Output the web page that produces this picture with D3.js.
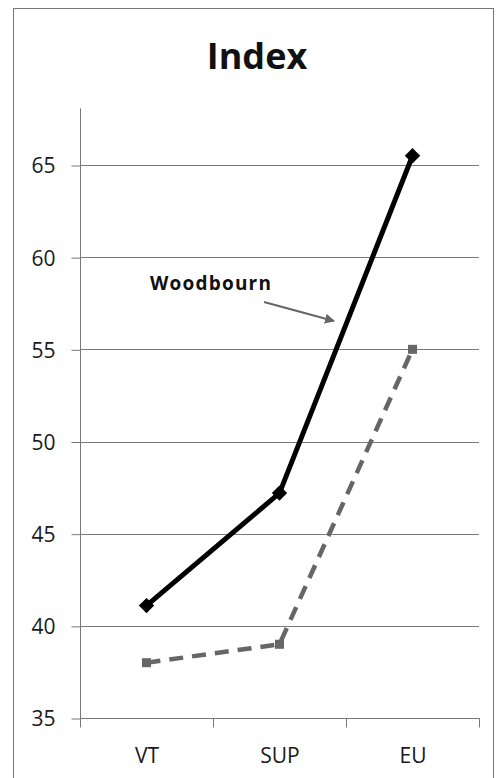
<!DOCTYPE html>
<html><head><meta charset="utf-8">
<script src="https://cdn.jsdelivr.net/npm/d3@7"></script>
<style>body{margin:0;background:#fff}svg{display:block}</style>
</head><body>
<script>
const categories = ["VT", "SUP", "EU"];
const woodbourn = [41.1, 47.2, 65.5];
const comparison = [38.0, 39.0, 55.0];
const yTicks = [35, 40, 45, 50, 55, 60, 65];
const yMin = 35, yMax = 68.1;
const title = "Index";
const annotation = "Woodbourn";

const W = 497, H = 778;
const svg = d3.select("body").append("svg").attr("width", W).attr("height", H);
svg.append("rect").attr("x", 13.5).attr("y", 8.5).attr("width", 480).attr("height", 800)
  .attr("fill", "#fff").attr("stroke", "#777").attr("stroke-width", 1);

const x = d3.scaleBand().domain(categories).range([80, 479]);
const y = d3.scaleLinear().domain([yMin, 65]).range([718, 165]);

const font = "'Open Sans', sans-serif";

svg.append("text").attr("x", 257).attr("y", 69).attr("text-anchor", "middle")
  .attr("font-family", font).attr("font-weight", "bold").attr("font-size", 36).attr("fill", "#111").text(title);

// gridlines
svg.append("g").selectAll("line").data(yTicks.filter(d => d > yMin)).join("line")
  .attr("x1", 80).attr("x2", 479).attr("y1", d => Math.round(y(d)) + 0.5).attr("y2", d => Math.round(y(d)) + 0.5)
  .attr("stroke", "#7a7a7a").attr("stroke-width", 1);

// y axis
const yAxis = d3.axisLeft(y).tickValues(yTicks).tickSize(9).tickPadding(16);
const gy = svg.append("g").attr("transform", "translate(80.5,0.5)").call(yAxis);
gy.select(".domain").remove();
gy.append("line").attr("x1", 0).attr("x2", 0).attr("y1", y(yMax)).attr("y2", y(yMin)).attr("stroke", "#777");
gy.selectAll(".tick line").attr("stroke", "#777");
gy.selectAll(".tick text").attr("font-family", font).attr("font-size", 21).attr("fill", "#1a1a1a").attr("dy", "0.35em");

// x axis
const gx = svg.append("g").attr("transform", `translate(0.5,${Math.round(y(yMin)) + 0.5})`);
gx.append("line").attr("x1", 80).attr("x2", 479).attr("stroke", "#777");
const bounds = categories.map(c => x(c)).concat([x.range()[1]]);
gx.selectAll("line.tk").data(bounds).join("line").attr("class", "tk")
  .attr("x1", d => d).attr("x2", d => d).attr("y1", 0).attr("y2", 9).attr("stroke", "#777");
gx.selectAll("text").data(categories).join("text")
  .attr("x", d => x(d) + x.bandwidth() / 2).attr("y", 44).attr("text-anchor", "middle")
  .attr("font-family", font).attr("font-size", 21).attr("fill", "#1a1a1a").text(d => d);

const cx = d => x(d) + x.bandwidth() / 2;
const line = d3.line().x((d, i) => cx(categories[i])).y(d => y(d));

// dashed series
svg.append("path").attr("d", line(comparison)).attr("fill", "none")
  .attr("stroke", "#666").attr("stroke-width", 4.5).attr("stroke-dasharray", "14 9");
svg.append("g").selectAll("rect").data(comparison).join("rect")
  .attr("x", (d, i) => cx(categories[i]) - 4.5).attr("y", d => y(d) - 4.5)
  .attr("width", 9).attr("height", 9).attr("fill", "#666");

// solid series
svg.append("path").attr("d", line(woodbourn)).attr("fill", "none")
  .attr("stroke", "#000").attr("stroke-width", 5);
const diamond = d3.symbol().type(d3.symbolDiamond2).size(150);
svg.append("g").selectAll("path").data(woodbourn).join("path")
  .attr("transform", (d, i) => `translate(${cx(categories[i])},${y(d)})`)
  .attr("d", diamond).attr("fill", "#000");

// annotation
svg.append("text").attr("x", 150).attr("y", 290).attr("font-family", font).attr("font-weight", "bold")
  .attr("font-size", 19).attr("letter-spacing", 1.2).attr("fill", "#111").text(annotation);
const defs = svg.append("defs");
defs.append("marker").attr("id", "arr").attr("viewBox", "0 0 10 10").attr("refX", 9).attr("refY", 5)
  .attr("markerWidth", 5).attr("markerHeight", 5).attr("orient", "auto")
  .append("path").attr("d", "M0,0 L10,5 L0,10 z").attr("fill", "#666");
svg.append("line").attr("x1", 264).attr("y1", 302).attr("x2", 334).attr("y2", 321)
  .attr("stroke", "#666").attr("stroke-width", 2).attr("marker-end", "url(#arr)");
</script>
</body></html>
